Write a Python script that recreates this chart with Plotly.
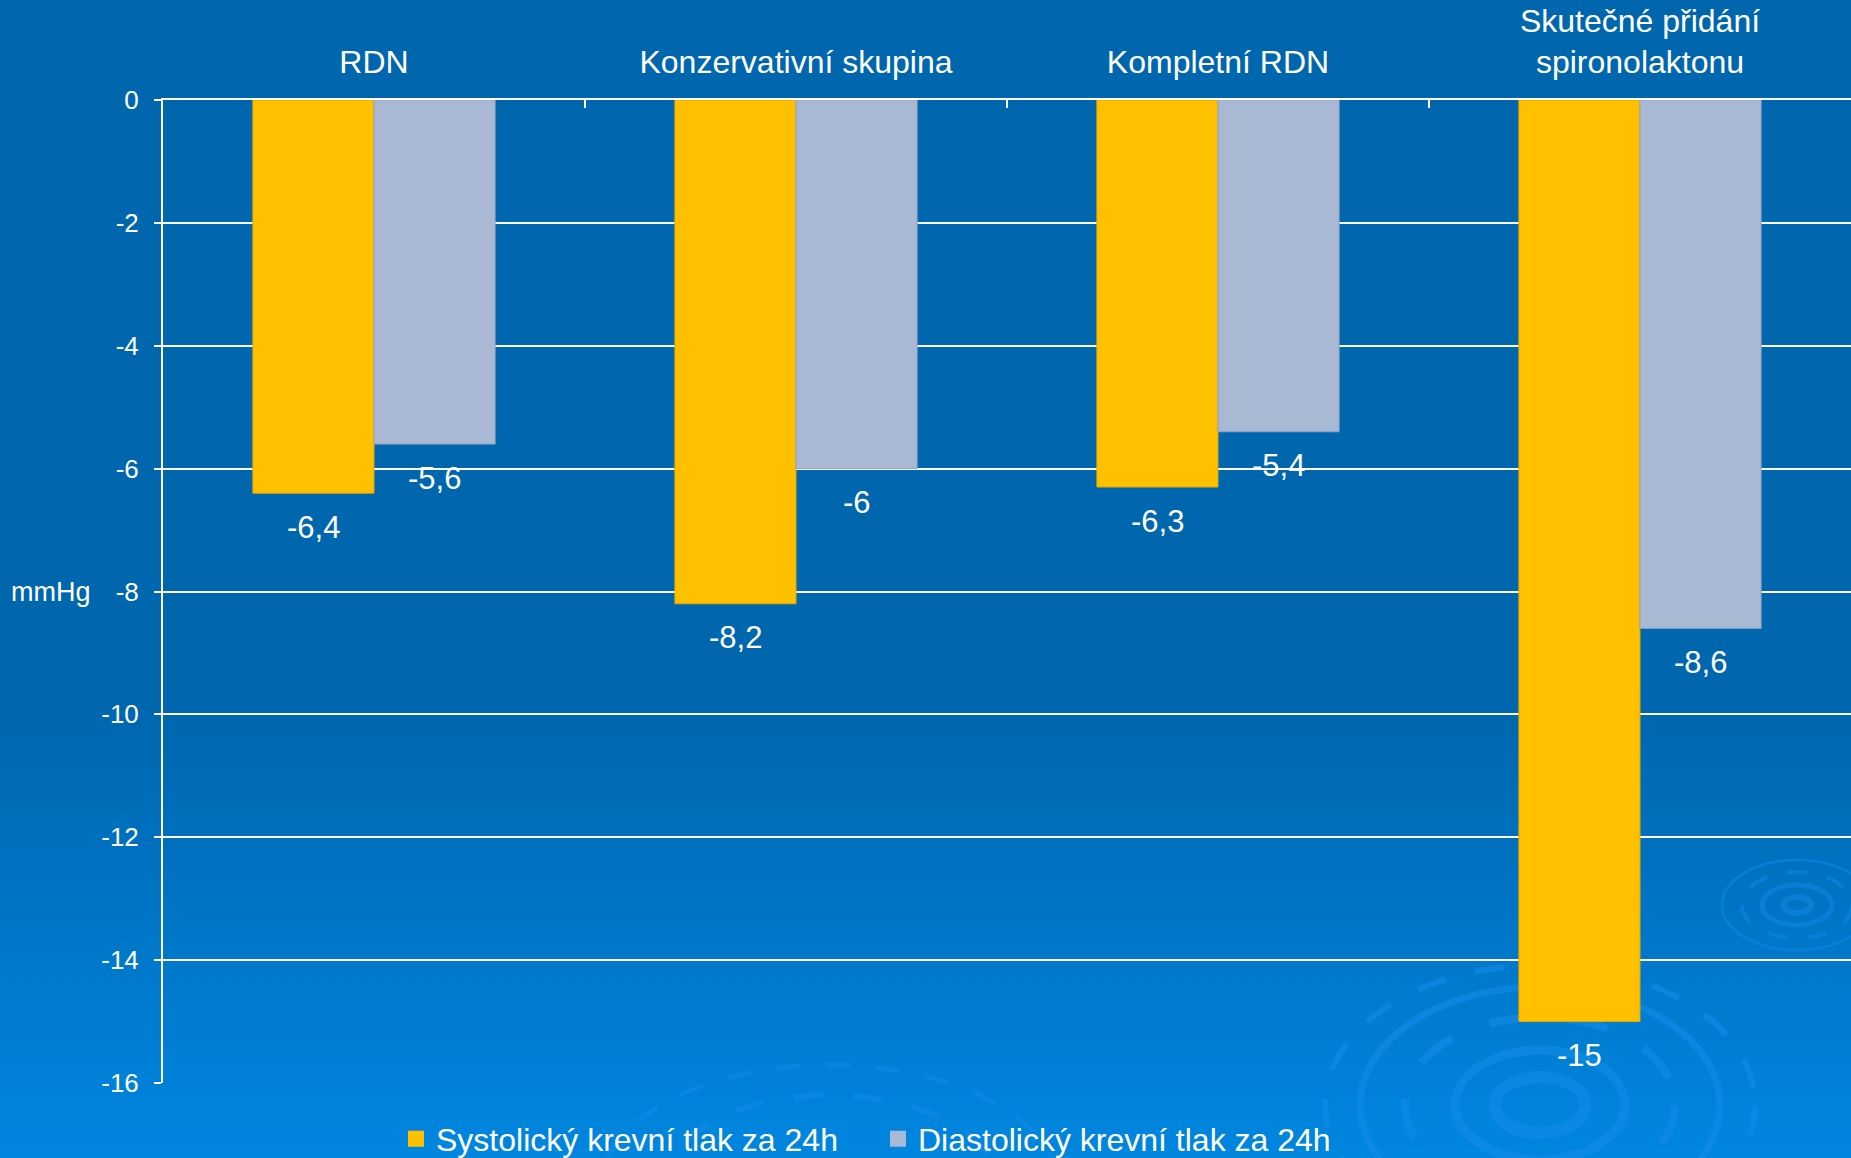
import plotly.graph_objects as go

# ---- data ----
categories = ["RDN", "Konzervativní skupina", "Kompletní RDN", "Skutečné přidání<br>spironolaktonu"]
systolic = [-6.4, -8.2, -6.3, -15]
diastolic = [-5.6, -6, -5.4, -8.6]
series_names = ["Systolický krevní tlak za 24h", "Diastolický krevní tlak za 24h"]
series_colors = ["#FFC000", "#A9B8D3"]
y_ticks = [0, -2, -4, -6, -8, -10, -12, -14, -16]
y_title = "mmHg"

W, H = 1851, 1158
ML, MR, MT, MB = 163, 0, 100, 75
PW, PH = W - ML - MR, H - MT - MB
FONT = "Liberation Sans, Arial, sans-serif"
BARGAP = 0.426

def px_x(x):
    return (x - ML) / PW

def px_y(y):
    return (H - MB - y) / PH

def fmt(v):
    return ("%g" % v).replace(".", ",")

fig = go.Figure()
fig.add_trace(go.Bar(x=categories, y=systolic, name=series_names[0], showlegend=False,
                     marker=dict(color=series_colors[0], line=dict(color="#E0A800", width=1))))
fig.add_trace(go.Bar(x=categories, y=diastolic, name=series_names[1], showlegend=False,
                     marker=dict(color=series_colors[1], line=dict(color="#8FA3C4", width=1))))
# legend entries with larger square swatches
for nm, col in zip(series_names, series_colors):
    fig.add_trace(go.Scatter(x=[None], y=[None], mode="markers", name=nm,
                             marker=dict(symbol="square", size=16, color=col,
                                         line=dict(width=0))))

# value labels below bar ends
cat_w = PW / len(categories)
bar_w = cat_w * (1 - BARGAP) / 2
annotations = []
for vals, sh in ((systolic, -bar_w / 2), (diastolic, bar_w / 2)):
    for c, v in zip(categories, vals):
        annotations.append(dict(x=c, y=v, xref="x", yref="y", text=fmt(v), showarrow=False,
                                xshift=sh, yshift=-34, yanchor="middle",
                                font=dict(family=FONT, size=31, color="white")))
annotations.append(dict(x=px_x(51), y=0.5, xref="paper", yref="paper", text=y_title,
                        showarrow=False, xanchor="center", yanchor="middle",
                        font=dict(family=FONT, size=27, color="white")))

# background gradient and decorative ripples
shapes = []
top_c = (0x00, 0x66, 0xAE)
bot_c = (0x00, 0x86, 0xE0)
g0, g1 = 700, H
n = 46
for i in range(n):
    ya = g0 + (g1 - g0) * i / n
    yb = g0 + (g1 - g0) * (i + 1) / n + 1
    t = (i + 0.5) / n
    col = tuple(int(round(a + (b - a) * t)) for a, b in zip(top_c, bot_c))
    shapes.append(dict(type="rect", xref="paper", yref="paper", layer="below",
                       x0=px_x(0), x1=px_x(W), y0=px_y(yb), y1=px_y(ya),
                       fillcolor="rgb(%d,%d,%d)" % col, line=dict(width=0)))

def ellipse(cx, cy, rx, ry, width, color, dash="solid"):
    return dict(type="circle", xref="paper", yref="paper", layer="below",
                x0=px_x(cx - rx), x1=px_x(cx + rx), y0=px_y(cy + ry), y1=px_y(cy - ry),
                line=dict(color=color, width=width, dash=dash), fillcolor="rgba(0,0,0,0)")

rip = "rgba(20,140,235,0.55)"
for rx, ry, w, d in ((45, 28, 12, "solid"), (85, 55, 9, "solid"), (135, 88, 8, "longdash"),
                     (180, 118, 7, "solid"), (215, 140, 6, "longdash")):
    shapes.append(ellipse(1540, 1105, rx, ry, w, rip, d))
for rx, ry, w, d in ((14, 8, 6, "solid"), (35, 20, 5, "solid"), (55, 33, 4, "longdash"), (75, 45, 3, "solid")):
    shapes.append(ellipse(1797, 905, rx, ry, w, "rgba(20,130,225,0.6)", d))
for rx, ry, w in ((170, 95, 6), (230, 125, 5)):
    shapes.append(ellipse(830, 1190, rx, ry, w, "rgba(20,140,235,0.45)", "longdash"))

fig.update_layout(
    width=W, height=H,
    margin=dict(l=ML, r=MR, t=MT, b=MB, pad=0, autoexpand=False),
    paper_bgcolor="#0066AE",
    plot_bgcolor="rgba(0,0,0,0)",
    font=dict(family=FONT, color="white"),
    barmode="group", bargap=BARGAP, bargroupgap=0,
    showlegend=True,
    legend=dict(orientation="h", x=px_x(396), xanchor="left", y=px_y(1139), yanchor="middle",
                font=dict(family=FONT, size=32, color="white"), bgcolor="rgba(0,0,0,0)",
                itemwidth=30, itemsizing="trace", traceorder="normal",
                entrywidth=437, entrywidthmode="pixels"),
    xaxis=dict(side="top", type="category", showline=True, linecolor="white", linewidth=2,
               ticks="inside", tickson="boundaries", ticklen=8, tickcolor="white", tickwidth=2,
               ticklabelstandoff=12, automargin=False,
               tickfont=dict(family=FONT, size=32, color="white"), showgrid=False),
    yaxis=dict(range=[-16, 0], tickvals=y_ticks, ticktext=[str(v) for v in y_ticks],
               showgrid=True, gridcolor="white", gridwidth=2,
               showline=True, linecolor="white", linewidth=2, ticks="outside", ticklen=7,
               tickcolor="white", tickwidth=2, zeroline=False, ticklabelstandoff=10,
               automargin=False,
               tickfont=dict(family=FONT, size=26, color="white")),
    annotations=annotations,
    shapes=shapes,
)

fig.write_html("out.html", config={"displayModeBar": False},
               post_script="document.body.style.margin='0';document.body.style.overflow='hidden';")
